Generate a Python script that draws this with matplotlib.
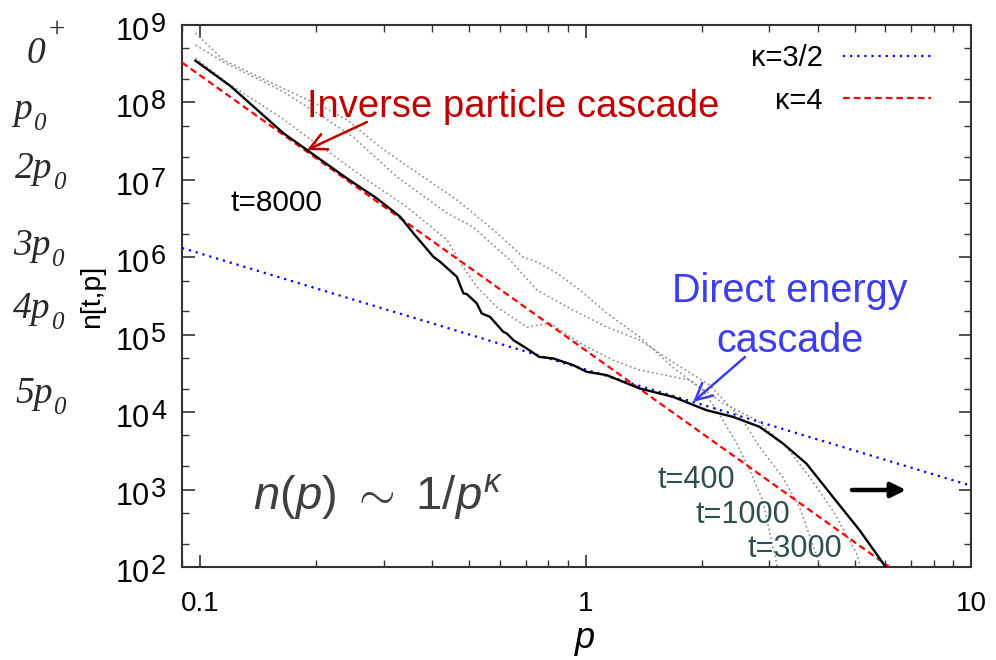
import numpy as np
import matplotlib
matplotlib.use('Agg')
import matplotlib.pyplot as plt
from matplotlib.ticker import LogLocator, FixedLocator, FixedFormatter, NullFormatter

plt.rcParams['font.family'] = ['Liberation Sans', 'DejaVu Sans']
plt.rcParams['mathtext.fontset'] = 'custom'
plt.rcParams['mathtext.rm'] = 'Liberation Sans'
plt.rcParams['mathtext.it'] = 'Liberation Sans:italic'
plt.rcParams['mathtext.bf'] = 'Liberation Sans:bold'

# ---------------- data ----------------
p_t8000 = [0.0973, 0.1199, 0.1647, 0.1895, 0.2404, 0.2875, 0.3305, 0.3578, 0.4031, 0.4196,
           0.4636, 0.4822, 0.4920, 0.5117, 0.5222, 0.5380, 0.5654, 0.6119, 0.6245, 0.6498,
           0.7036, 0.7467, 0.7571, 0.8246, 0.9293, 1.0065, 1.134, 1.383, 1.687, 2.059,
           2.413, 2.830, 3.252, 3.740, 4.382, 5.139, 6.10]
n_t8000 = [3.46e8, 1.63e8, 3.99e7, 2.43e7, 1.046e7, 5.77e6, 3.34e6, 2.04e6, 1.015e6, 8.75e5,
           5.6e5, 3.42e5, 3.35e5, 2.80e5, 2.54e5, 1.885e5, 1.70e5, 1.09e5, 1.04e5, 8.52e4,
           6.65e4, 5.45e4, 5.18e4, 4.94e4, 4.05e4, 3.32e4, 3.01e4, 2.02e4, 1.576e4, 1.06e4,
           8.70e3, 6.46e3, 3.94e3, 2.17e3, 805, 299, 90]

p_t400 = [0.0973, 0.1150, 0.1615, 0.2088, 0.2409, 0.2934, 0.3570, 0.4375, 0.4643, 0.5108,
          0.5894, 0.6886, 0.7484, 0.8432, 0.9672, 1.136, 1.383, 1.684, 2.014, 2.190,
          2.467, 2.667, 2.881, 3.16]
n_t400 = [7.88e8, 3.53e8, 1.58e8, 8.72e7, 5.92e7, 2.65e7, 1.34e7, 6.75e6, 5.48e6, 3.72e6,
          2.06e6, 1.006e6, 8.67e5, 6.25e5, 3.77e5, 1.90e5, 9.31e4, 3.81e4, 1.92e4, 1.06e4,
          3.98e3, 1.78e3, 729, 90]

p_t1000 = [0.0973, 0.1150, 0.1615, 0.2088, 0.2496, 0.3246, 0.4375, 0.5108, 0.6370, 0.7484,
           0.9277, 1.136, 1.383, 1.684, 2.101, 2.557, 2.830, 3.246, 3.593, 4.10]
n_t1000 = [5.51e8, 3.33e8, 1.45e8, 6.48e7, 3.57e7, 1.09e7, 3.72e6, 2.46e6, 9.2e5, 3.77e5,
           2.08e5, 1.254e5, 8.52e4, 4.43e4, 2.23e4, 7.88e3, 3.53e3, 1.45e3, 592, 90]

p_t3000 = [0.0973, 0.1178, 0.1615, 0.1898, 0.2177, 0.2715, 0.3445, 0.4375, 0.4813, 0.5232,
           0.5894, 0.7053, 0.8089, 0.9672, 1.178, 1.383, 1.865, 2.270, 2.780, 3.325,
           3.814, 4.374, 5.048, 5.20]
n_t3000 = [3.75e8, 1.78e8, 6.48e7, 3.57e7, 2.22e7, 9.94e6, 4.45e6, 1.67e6, 7.47e5, 4.12e5,
           2.27e5, 1.254e5, 1.41e5, 7.79e4, 4.70e4, 3.49e4, 2.59e4, 1.31e4, 7.88e3, 3.53e3,
           1.45e3, 542, 151, 90]

# reference power laws n = A * p^(-slope), as drawn
slope_blue, amp_blue = 1.5, 3.55e4       # kappa = 3/2
slope_red, amp_red = 3.55, 6.3e4         # "kappa = 4" line, slope as drawn
legend_labels = ['\u03ba=3/2', '\u03ba=4']

x_ticks = [0.1, 1, 10]
x_tick_labels = ['0.1', '1', '10']
y_tick_exponents = [2, 3, 4, 5, 6, 7, 8, 9]
xlim = (0.0898, 10.0)
ylim = (1e2, 1e9)

# left-hand column labels: (main, small, 'sub'/'sup')
side_main = ['0', 'p', '2p', '3p', '4p', '5p']
side_small = ['+', '0', '0', '0', '0', '0']
side_kind = ['sup', 'sub', 'sub', 'sub', 'sub', 'sub']
side_left = [27, 13, 15, 13, 13, 15]          # pixel left edges
side_base = [63, 119, 178, 255, 318, 403]     # pixel baselines

# ---------------- figure ----------------
W, H = 996, 660
fig = plt.figure(figsize=(W / 100, H / 100), dpi=100)
ax = fig.add_axes([182 / W, 1 - 567 / H, (971 - 182) / W, (567 - 25) / H])
ax.set_xscale('log')
ax.set_yscale('log')
ax.set_xlim(*xlim)
ax.set_ylim(*ylim)

gray_style = dict(color='#8c8c8c', lw=1.1, linestyle=(0, (1.2, 1.8)), zorder=2)
ax.plot(p_t400, n_t400, **gray_style)
ax.plot(p_t1000, n_t1000, **gray_style)
ax.plot(p_t3000, n_t3000, **gray_style)

p_line = np.logspace(np.log10(xlim[0]), np.log10(xlim[1]), 300)
ax.plot(p_line, amp_blue * p_line ** (-slope_blue), color='#0000ff', lw=1.6,
        linestyle=(0, (1, 2.2)), zorder=3, label=legend_labels[0])
ax.plot(p_line, amp_red * p_line ** (-slope_red), color='#ff0000', lw=1.6,
        linestyle=(0, (3, 1.8)), zorder=3, label=legend_labels[1])
ax.plot(p_t8000, n_t8000, color='black', lw=1.7, zorder=4)

# ticks
ax.xaxis.set_major_locator(FixedLocator(x_ticks))
ax.xaxis.set_major_formatter(FixedFormatter(x_tick_labels))
ax.xaxis.set_minor_locator(LogLocator(base=10, subs=np.arange(2, 10), numticks=20))
ax.xaxis.set_minor_formatter(NullFormatter())
ax.yaxis.set_major_locator(FixedLocator([10.0 ** e for e in y_tick_exponents]))
ax.yaxis.set_major_formatter(NullFormatter())
ax.yaxis.set_minor_locator(LogLocator(base=10, subs=(2.0, 5.0), numticks=20))
ax.yaxis.set_minor_formatter(NullFormatter())
ax.tick_params(which='both', direction='in', top=True, right=True, color='#333333')
ax.tick_params(which='major', length=9, width=1.2)
ax.tick_params(which='minor', length=5, width=1.0)
ax.tick_params(axis='x', which='major', pad=17, labelsize=20)
for s in ax.spines.values():
    s.set_color('#333333')
    s.set_linewidth(1.5)


def fx(px):
    return (px - 182) / 789


def fy(py):
    return (567 - py) / 542


# y tick labels: "10" with a large exponent
for e in y_tick_exponents:
    ax.annotate('10', xy=(fx(150), 10.0 ** e), xycoords=('axes fraction', 'data'),
                xytext=(0, -15 * 0.72), textcoords='offset points', ha='right',
                va='baseline', fontsize=22, annotation_clip=False)
    ax.annotate(str(e), xy=(fx(151), 10.0 ** e), xycoords=('axes fraction', 'data'),
                xytext=(0, -7 * 0.72), textcoords='offset points', ha='left',
                va='baseline', fontsize=19.5, annotation_clip=False)

ax.set_xlabel('p', fontsize=26, style='italic')
ax.xaxis.set_label_coords(0.511, -0.1)
ax.set_ylabel('n[t,p]', fontsize=20.5)
ax.yaxis.set_label_coords(-0.098, 0.5)

leg = ax.legend(loc='upper right', bbox_to_anchor=(0.949, 0.965), frameon=False,
                markerfirst=False, fontsize=21, handlelength=3.0, handletextpad=0.7,
                labelspacing=0.5, borderpad=0, borderaxespad=0)

# annotations
red_c = '#c00000'
blue_c = '#3c3cf0'
ax.text(fx(307), fy(117), 'Inverse particle cascade', color=red_c, fontsize=27.5,
        transform=ax.transAxes, va='baseline', ha='left')
ax.annotate('', xy=(fx(307), fy(150)), xytext=(fx(367), fy(122)),
            xycoords='axes fraction', textcoords='axes fraction',
            arrowprops=dict(arrowstyle='->', color=red_c, lw=1.8, mutation_scale=30,
                            shrinkA=0, shrinkB=0))
ax.text(fx(790), fy(302), 'Direct energy', color=blue_c, fontsize=28.5,
        transform=ax.transAxes, va='baseline', ha='center')
ax.text(fx(790), fy(352), 'cascade', color=blue_c, fontsize=28.5,
        transform=ax.transAxes, va='baseline', ha='center')
ax.annotate('', xy=(fx(693), fy(402)), xytext=(fx(745), fy(357)),
            xycoords='axes fraction', textcoords='axes fraction',
            arrowprops=dict(arrowstyle='->', color=blue_c, lw=1.8, mutation_scale=30,
                            shrinkA=0, shrinkB=0))
ax.text(fx(230), fy(211), 't=8000', color='black', fontsize=21.5,
        transform=ax.transAxes, va='baseline', ha='left')
tcol = '#2f4f4f'
ax.text(fx(658), fy(488), 't=400', color=tcol, fontsize=22, transform=ax.transAxes,
        va='baseline', ha='left')
ax.text(fx(695), fy(523), 't=1000', color=tcol, fontsize=22, transform=ax.transAxes,
        va='baseline', ha='left')
ax.text(fx(748), fy(557), 't=3000', color=tcol, fontsize=22, transform=ax.transAxes,
        va='baseline', ha='left')
ax.text(fx(253), fy(510), r'$n(p)\ \sim\ 1/p^{\kappa}$', color='#404040', fontsize=34,
        transform=ax.transAxes, va='baseline', ha='left')
ax.annotate('', xy=(fx(906), fy(490)), xytext=(fx(852), fy(490)),
            xycoords='axes fraction', textcoords='axes fraction',
            arrowprops=dict(arrowstyle='-|>', color='black', lw=3.2, mutation_scale=22,
                            shrinkA=0, shrinkB=0))

# left column of italic serif labels
renderer = fig.canvas.get_renderer()
side_col = '#2a2a2a'
for m, s, k, xl, yb in zip(side_main, side_small, side_kind, side_left, side_base):
    t = fig.text(xl / W, 1 - yb / H, m, fontsize=27, color=side_col, va='baseline',
                 ha='left', family='Liberation Serif', style='italic')
    ext = t.get_window_extent(renderer=renderer)
    if k == 'sup':
        dy, fs = 26, 21
    else:
        dy, fs = -11, 18
    fig.text((ext.x1 + 1) / W, 1 - (yb - dy) / H, s, fontsize=fs, color=side_col,
             va='baseline', ha='left', family='Liberation Serif', style='italic')

fig.savefig('out.png', dpi=100)
